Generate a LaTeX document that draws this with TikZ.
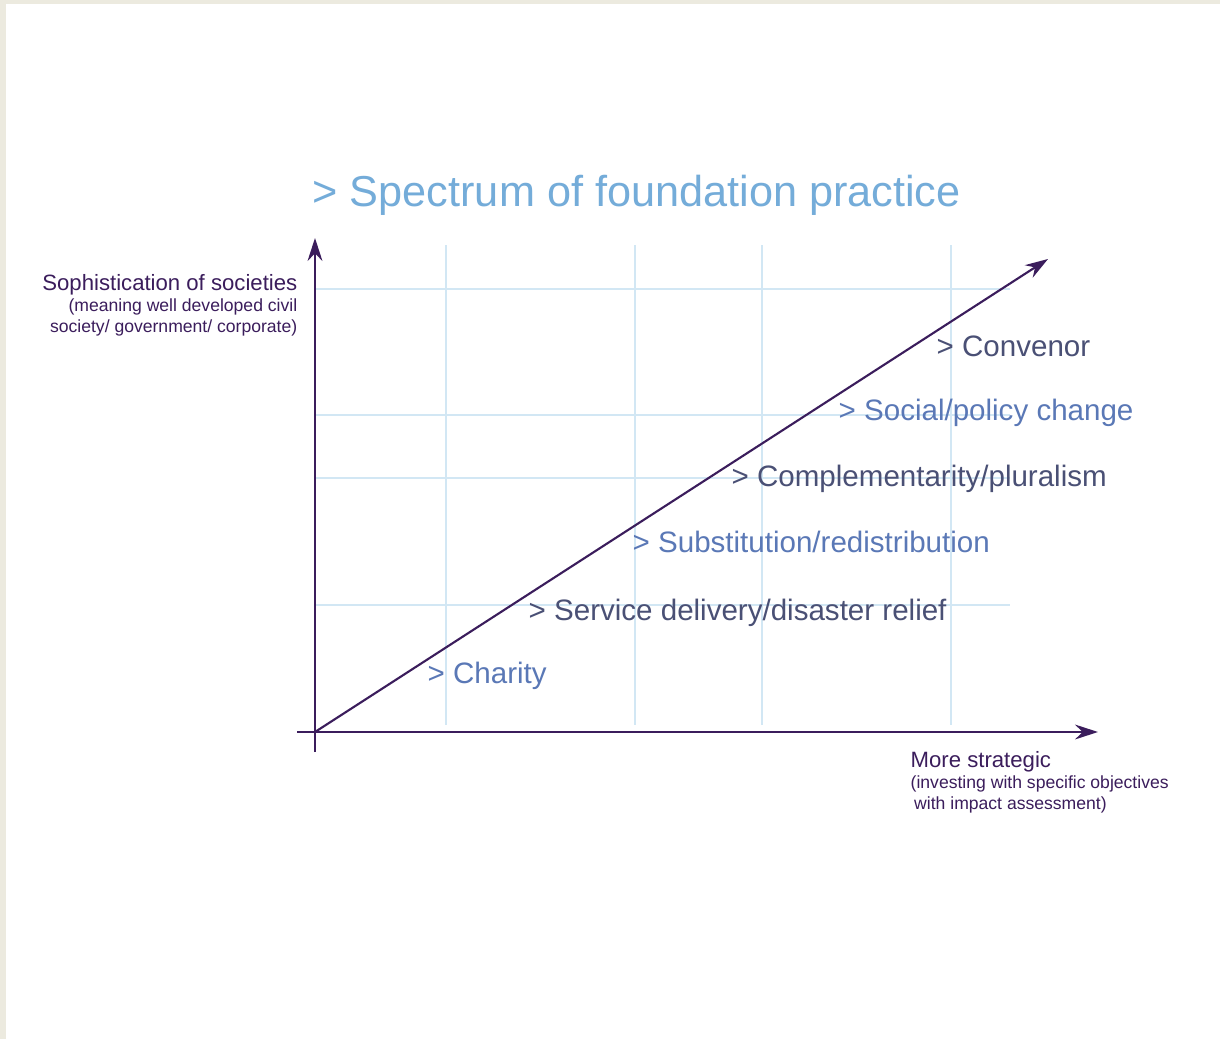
\documentclass[tikz,border=0pt]{standalone}
\usepackage{fontspec}
\setmainfont{Liberation Sans}
\usetikzlibrary{arrows.meta}

\definecolor{pagebeige}{HTML}{ECEADF}
\definecolor{axispurple}{HTML}{3B1D5C}
\definecolor{titleblue}{HTML}{74ACD9}
\definecolor{gridblue}{HTML}{D2E7F4}
\definecolor{darkslate}{HTML}{4A5075}
\definecolor{midblue}{HTML}{5A78B6}

\def \gridtop {245}
\def \gridbot {725}
\def \gridleft {315}
\def \gridright {1010}

\begin{document}
\begin{tikzpicture}[x=0.01cm, y=-0.01cm,
  gridline/.style={draw=gridblue, line width=0.45pt},
  axis/.style={draw=axispurple, line width=0.6pt, -{Stealth[length=6.5pt, width=4.2pt]}},
  practice/.style={anchor=base west, inner sep=0pt, font=\fontsize{8.4}{10}\selectfont},
  axislabel/.style={inner sep=0pt, text=axispurple, font=\fontsize{5}{6}\selectfont}]
\useasboundingbox (0,0) rectangle (1220,1039);
\fill[pagebeige] (0,0) rectangle (1220,1039);
\fill[white] (6,4) rectangle (1220,1039);

% grid
\foreach \gx in {446,635,762,951}
  \draw[gridline] (\gx,\gridtop) -- (\gx,\gridbot);
\foreach \gy in {289,415,478,605}
  \draw[gridline] (\gridleft,\gy) -- (\gridright,\gy);

% axes
\coordinate (origin) at (315,732);
\coordinate (ystart) at (315,752);
\coordinate (ytip) at (315,238);
\coordinate (xstart) at (297,732);
\coordinate (xtip) at (1098,732);
\coordinate (dtip) at (1048,259);
\draw[axis] (ystart) -- (ytip);
\draw[axis] (xstart) -- (xtip);
\draw[axis] (origin) -- (dtip);

\node[anchor=base west, inner sep=0pt, text=titleblue, font=\fontsize{12.3}{14}\selectfont]
  (title) at (312,206) {> Spectrum of foundation practice};

\node[axislabel, anchor=north east, align=right] (ylabel) at (298,274)
  {{\fontsize{6.3}{6}\selectfont Sophistication of societies}\\
   (meaning well developed civil\\
   society/ government/ corporate)};
\node[axislabel, anchor=north west, align=left] (xlabel) at (910,751)
  {{\fontsize{6.3}{6}\selectfont More strategic}\\
   (investing with specific objectives\\
   \hspace{1pt}with impact assessment)};

% practice labels
\node[practice, text=darkslate] (convenor) at (936,356) {> Convenor};
\node[practice, text=midblue] (social) at (838,420) {> Social/policy change};
\node[practice, text=darkslate] (complement) at (731,486) {> Complementarity/pluralism};
\node[practice, text=midblue] (substitution) at (632,552) {> Substitution/redistribution};
\node[practice, text=darkslate] (service) at (528,620) {> Service delivery/disaster relief};
\node[practice, text=midblue] (charity) at (427,683) {> Charity};
\end{tikzpicture}
\end{document}
